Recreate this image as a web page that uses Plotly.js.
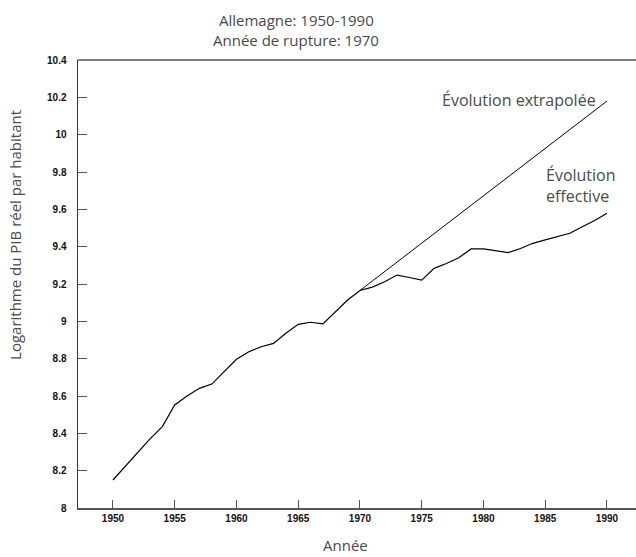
<!DOCTYPE html>
<html>
<head>
<meta charset="utf-8">
<script src="https://cdn.plot.ly/plotly-3.0.1.min.js"></script>
<style>html,body{margin:0;padding:0;background:#fff;}#chart{width:636px;height:557px;}</style>
</head>
<body>
<div id="chart"></div>
<script>
// Actual evolution (log of real GDP per capita)
const years = [1950,1951,1952,1953,1954,1955,1956,1957,1958,1959,1960,1961,1962,1963,1964,1965,1966,1967,1968,1969,1970,1971,1972,1973,1974,1975,1976,1977,1978,1979,1980,1981,1982,1983,1984,1985,1986,1987,1988,1989,1990];
const actual = [8.15,8.225,8.30,8.37,8.436,8.552,8.60,8.641,8.664,8.73,8.797,8.837,8.864,8.882,8.936,8.984,8.995,8.986,9.048,9.114,9.165,9.183,9.212,9.248,9.235,9.221,9.284,9.31,9.341,9.388,9.388,9.38,9.368,9.39,9.418,9.436,9.455,9.472,9.507,9.54,9.579];
// Extrapolated trend from break year
const trendYears = [1970,1990];
const trendValues = [9.165,10.18];
const xTicks = [1950,1955,1960,1965,1970,1975,1980,1985,1990];
const yTicks = [8,8.2,8.4,8.6,8.8,9,9.2,9.4,9.6,9.8,10,10.2,10.4];
const yTickText = ['8','8.2','8.4','8.6','8.8','9','9.2','9.4','9.6','9.8','10','10.2','10.4'];

const textFont = {family:'"Open Sans", Lato, sans-serif', size:15, color:'#4a4a4a'};
const labelFont = {family:'"Open Sans", Lato, sans-serif', size:16, color:'#4a4a4a'};
const tickFont = {family:'"Liberation Sans", Arial, sans-serif', size:10, color:'#111', weight:'bold'};

const traces = [
  {x:years, y:actual, type:'scatter', mode:'lines', line:{color:'#000', width:1.2}, hoverinfo:'skip'},
  {x:trendYears, y:trendValues, type:'scatter', mode:'lines', line:{color:'#000', width:1}, hoverinfo:'skip'}
];

const layout = {
  width:636, height:557,
  margin:{l:78, r:0, t:60, b:49},
  paper_bgcolor:'#fff', plot_bgcolor:'#fff',
  showlegend:false,
  xaxis:{range:[1947.17,1992.35], tickvals:xTicks, ticktext:xTicks.map(String), ticks:'inside', ticklen:8, tickcolor:'#555', tickwidth:1,
         showline:true, linecolor:'#555', linewidth:1.5, showgrid:false, zeroline:false, tickfont:tickFont, mirror:false, fixedrange:true},
  yaxis:{range:[8,10.4], tickvals:yTicks, ticktext:yTickText, ticks:'inside', ticklen:9, tickcolor:'#555', tickwidth:1,
         showline:true, linecolor:'#333', linewidth:1.5, showgrid:false, zeroline:false, tickfont:tickFont, ticklabelstandoff:8, fixedrange:true},
  shapes:[{type:'line', xref:'paper', yref:'paper', x0:0, x1:1, y0:1, y1:1, line:{color:'#555', width:1.5}}],
  annotations:[
    {text:'Allemagne: 1950-1990', x:(296-78)/558, y:(508-20)/448, xref:'paper', yref:'paper', showarrow:false, font:textFont, xanchor:'center', yanchor:'middle'},
    {text:'Année de rupture: 1970', x:(296-78)/558, y:(508-40)/448, xref:'paper', yref:'paper', showarrow:false, font:textFont, xanchor:'center', yanchor:'middle'},
    {text:'Évolution extrapolée', x:1982.9, y:10.186, xref:'x', yref:'y', showarrow:false, font:labelFont, xanchor:'center', yanchor:'middle'},
    {text:'Évolution<br>effective', x:1984.9, y:9.73, xref:'x', yref:'y', showarrow:false, font:labelFont, xanchor:'left', yanchor:'middle', align:'left'},
    {text:'Année', x:(345-78)/558, y:(508-545)/448, xref:'paper', yref:'paper', showarrow:false, font:textFont, xanchor:'center', yanchor:'middle'},
    {text:'Logarithme du PIB réel par habitant', x:-0.113, y:(508-235)/448, xref:'paper', yref:'paper', showarrow:false, font:textFont, textangle:-90, xanchor:'center', yanchor:'middle'}
  ]
};
Plotly.newPlot('chart', traces, layout, {displayModeBar:false, staticPlot:true});
</script>
</body>
</html>
